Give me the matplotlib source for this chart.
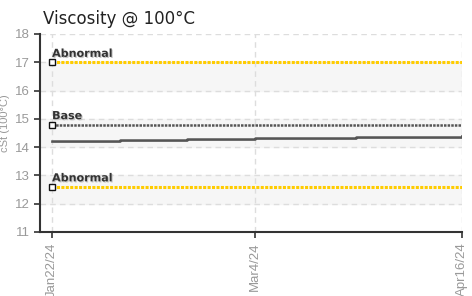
import numpy as np
import pandas as pd
import matplotlib
matplotlib.use("Agg")
import matplotlib.pyplot as plt
from matplotlib import font_manager
import matplotlib.patheffects as pe

# Daten
sample_dates = pd.to_datetime(["2024-01-22", "2024-02-05", "2024-02-19",
                               "2024-03-04", "2024-03-25", "2024-04-16"])
viscosity = [14.21, 14.24, 14.28, 14.33, 14.37, 14.41]
viscosity_shadow = [14.18, 14.21, 14.25, 14.30, 14.34, 14.38]

limit_names = ["Abnormal", "Base", "Abnormal"]
limit_values = [17.0, 14.8, 12.6]
limit_colors = ["#ffcc00", "#555555", "#ffcc00"]

tick_dates = pd.to_datetime(["2024-01-22", "2024-03-04", "2024-04-16"])
tick_labels = ["Jan22/24", "Mar4/24", "Apr16/24"]

names = {f.name for f in font_manager.fontManager.ttflist}
narrow = "Liberation Sans Narrow" if "Liberation Sans Narrow" in names else "Liberation Sans"

fig = plt.figure(figsize=(4.72, 2.96), dpi=100)
ax = fig.add_axes([40 / 472, 1 - 232 / 296, 422 / 472, 198 / 296])

ax.set_ylim(11, 18)
ax.set_xlim(tick_dates[0] - pd.Timedelta(days=2.5), tick_dates[-1])

# abwechselnde Baender
for lo in (12, 14, 16):
    ax.axhspan(lo, lo + 1, color="#f6f6f6", zorder=0)

ax.set_yticks(range(11, 19))
ax.set_xticks(tick_dates)
ax.set_xticklabels(tick_labels, rotation=90)
ax.grid(True, color="#dddddd", linestyle=(0, (4, 3)), linewidth=1.0, zorder=1)

for sp in ("top", "right"):
    ax.spines[sp].set_visible(False)
for sp in ("left", "bottom"):
    ax.spines[sp].set_color("#333333")
    ax.spines[sp].set_linewidth(1.5)

ax.tick_params(axis="both", colors="#333333", length=4, width=1.2,
               labelcolor="#999999", labelsize=9.5)
for lab in ax.get_xticklabels() + ax.get_yticklabels():
    lab.set_fontfamily(narrow)

# Grenzwerte
x0 = sample_dates[0]
x1 = tick_dates[-1]
for name, val, col in zip(limit_names, limit_values, limit_colors):
    lw = 2.2 if col == "#ffcc00" else 1.8
    ax.hlines(val, x0, x1, color=col, linewidth=lw, linestyle=(0, (1, 0.45)), zorder=3)
    ax.plot([x0], [val], marker="s", markersize=4.5, markerfacecolor="white",
            markeredgecolor="#111111", markeredgewidth=1.0, zorder=5, clip_on=False)
    ax.text(x0, val + 0.12, name, fontsize=8, fontweight="bold", color="#333333",
            ha="left", va="bottom", zorder=6,
            path_effects=[pe.withSimplePatchShadow(offset=(0.8, -0.8), shadow_rgbFace="#bbbbbb", alpha=0.8)])

# Messwerte
ax.plot(sample_dates, viscosity_shadow, color="#b0b0b0", linewidth=1.3,
        drawstyle="steps-post", zorder=3)
ax.plot(sample_dates, viscosity, color="#555555", linewidth=1.8,
        drawstyle="steps-post", zorder=4)

ax.set_ylabel("cSt (100°C)", fontsize=8, color="#999999", fontfamily=narrow)
ax.yaxis.set_label_coords(-0.07, 0.55)

fig.text(43 / 472, 1 - 24 / 296, "Viscosity @ 100°C", fontsize=12, color="#222222",
         ha="left", va="baseline")

fig.savefig("out.png", dpi=100)
